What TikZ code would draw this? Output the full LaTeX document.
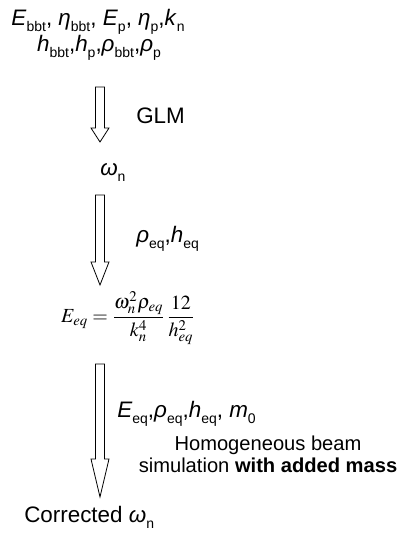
\documentclass[tikz,border=0pt]{standalone}
\usepackage{amsmath}
\usepackage{mathptmx}
\usepackage{fontspec}
\setmainfont{Liberation Sans}
\usepackage{tikz}
\usetikzlibrary{calc}
\newcommand{\sub}[1]{\raisebox{-5pt}{\fontsize{10.5}{12}\selectfont #1}}
\newcommand{\hueca}[3]{%
  \draw[bloque] ($(#1)+(-4.5,0)$) -- ($(#2)+(-4.5,-#3)$) -- ($(#2)+(-9,-#3)$)
    -- (#2) -- ($(#2)+(9,-#3)$) -- ($(#2)+(4.5,-#3)$) -- ($(#1)+(4.5,0)$) -- cycle;}
\tikzset{
  texto/.style={inner sep=0pt, font=\fontsize{16.8}{19}\selectfont},
  nota/.style={inner sep=0pt, align=center, font=\fontsize{15.1}{16.5}\selectfont},
  bloque/.style={draw=black, fill=white, line width=0.6pt, line join=miter}
}
\begin{document}
\begin{tikzpicture}[x=0.75pt, y=-0.75pt]
  \useasboundingbox (0,0) rectangle (399,533);

  % --- Datos de entrada ---
  \node[texto, anchor=base] (datos1) at (98,25)
    {\textit{E}\sub{bbt}, \textit{η}\sub{bbt}, \textit{E}\sub{p}, \textit{η}\sub{p},\textit{k}\sub{n}};
  \node[texto, anchor=base] (datos2) at (99,51)
    {\textit{h}\sub{bbt},\textit{h}\sub{p},\textit{ρ}\sub{bbt},\textit{ρ}\sub{p}};

  % --- GLM ---
  \coordinate (ini1) at (100,87);
  \coordinate (fin1) at (100,142);
  \hueca{ini1}{fin1}{14}
  \node[texto, anchor=base west] (glm) at (136,123) {GLM};

  \node[texto, anchor=base west] (omega) at (100,175) {\textit{ω}\sub{n}};

  % --- Parámetros equivalentes ---
  \coordinate (ini2) at (100,195);
  \coordinate (fin2) at (100,285);
  \hueca{ini2}{fin2}{23}
  \node[texto, anchor=base west] (rhoh) at (136,242)
    {\textit{ρ}\sub{eq},\textit{h}\sub{eq}};

  \node[inner sep=0pt, font=\fontsize{15}{18}\selectfont] (ecuacion) at (128,318)
    {$E_{eq}=\dfrac{\omega_n^2\rho_{eq}}{k_n^4}\,\dfrac{12}{h_{eq}^2}$};

  % --- Simulación ---
  \coordinate (ini3) at (100,364);
  \coordinate (fin3) at (100,497);
  \hueca{ini3}{fin3}{38}
  \node[texto, anchor=base west] (param) at (117,417)
    {\textit{E}\sub{eq},\textit{ρ}\sub{eq},\textit{h}\sub{eq}, \textit{m}\sub{0}};
  \node[nota, anchor=base] (simul) at (268,472)
    {Homogeneous beam\\simulation \textbf{with added mass}};

  \node[texto, anchor=base west] (corregido) at (24,522)
    {Corrected \textit{ω}\sub{n}};
\end{tikzpicture}
\end{document}
